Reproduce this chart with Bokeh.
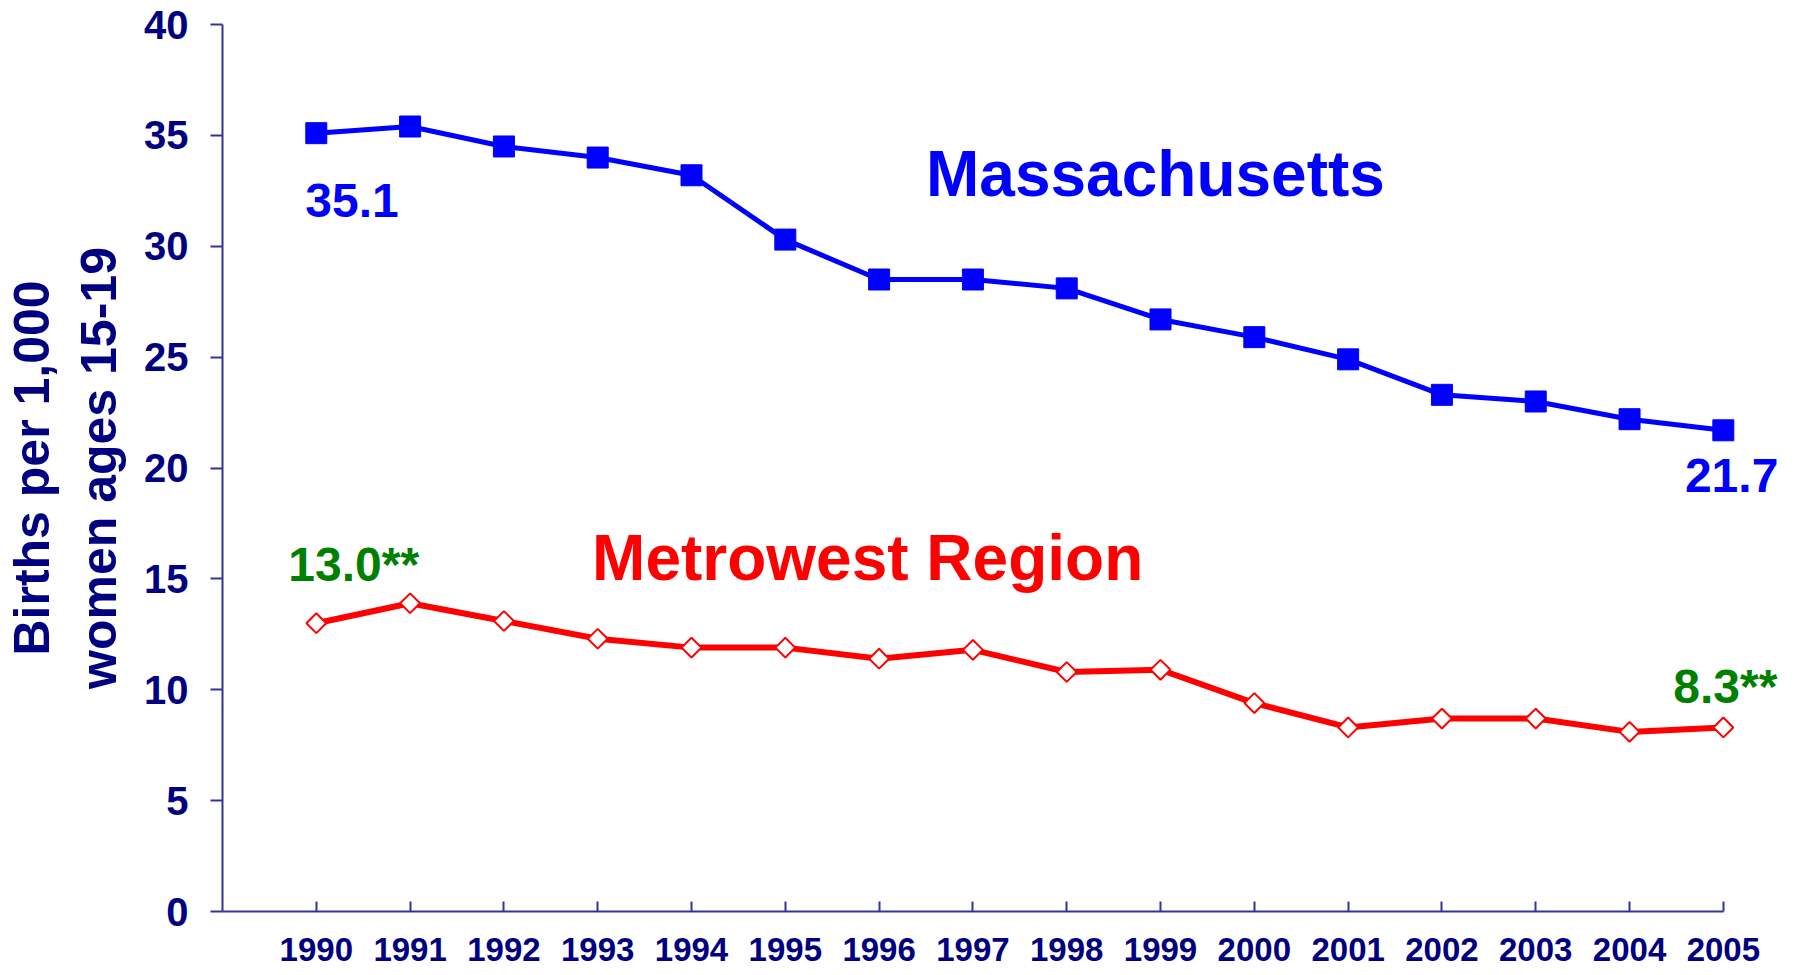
import numpy as np
from bokeh.plotting import figure
from bokeh.models import Label, FixedTicker, Range1d
from bokeh.embed import file_html
from bokeh.resources import INLINE

# ---- data ----
years = [1990, 1991, 1992, 1993, 1994, 1995, 1996, 1997,
         1998, 1999, 2000, 2001, 2002, 2003, 2004, 2005]
massachusetts = [35.1, 35.4, 34.5, 34.0, 33.2, 30.3, 28.5, 28.5,
                 28.1, 26.7, 25.9, 24.9, 23.3, 23.0, 22.2, 21.7]
metrowest = [13.0, 13.9, 13.1, 12.3, 11.9, 11.9, 11.4, 11.8,
             10.8, 10.9, 9.4, 8.3, 8.7, 8.7, 8.1, 8.3]
y_ticks = [0, 5, 10, 15, 20, 25, 30, 35, 40]
series_names = ["Massachusetts", "Metrowest Region"]
y_title = "Births per 1,000\nwomen ages 15-19"

FONT = "Liberation Sans"
NAVY = "#000080"
AXIS = "#333399"
BLUE = "#0000FF"
RED = "#FF0000"
GREEN = "#008000"

p = figure(width=1781, height=975,
           x_range=Range1d(1989, 2005.62), y_range=Range1d(0, 40),
           output_backend="svg", toolbar_location=None,
           min_border_left=213, min_border_top=24,
           min_border_right=0, min_border_bottom=64)
p.outline_line_color = None
p.xgrid.visible = False
p.ygrid.visible = False
p.background_fill_color = "white"
p.border_fill_color = "white"

# y axis
ya = p.yaxis[0]
ya.ticker = FixedTicker(ticks=y_ticks)
ya.axis_line_color = AXIS
ya.axis_line_width = 2
ya.major_tick_line_color = AXIS
ya.major_tick_line_width = 2
ya.major_tick_out = 12
ya.major_tick_in = 0
ya.minor_tick_line_color = None
ya.major_label_text_font = FONT
ya.major_label_text_font_style = "bold"
ya.major_label_text_font_size = "40px"
ya.major_label_text_color = NAVY
ya.major_label_standoff = 22
ya.axis_label = y_title
ya.axis_label_text_font = FONT
ya.axis_label_text_font_style = "bold"
ya.axis_label_text_font_size = "50px"
ya.axis_label_text_color = NAVY
ya.axis_label_standoff = 14

# x axis
xa = p.xaxis[0]
xa.ticker = FixedTicker(ticks=years)
xa.bounds = (1989, 2005)
xa.axis_line_color = AXIS
xa.axis_line_width = 2
xa.major_tick_line_color = AXIS
xa.major_tick_line_width = 2
xa.major_tick_in = 10
xa.major_tick_out = 0
xa.minor_tick_line_color = None
xa.major_label_text_font = FONT
xa.major_label_text_font_style = "bold"
xa.major_label_text_font_size = "33px"
xa.major_label_text_color = NAVY
xa.major_label_standoff = 26

# series
p.line(years, massachusetts, line_color=BLUE, line_width=5)
p.scatter(years, massachusetts, marker="square", size=21,
          fill_color=BLUE, line_color=BLUE, line_width=1)

p.line(years, metrowest, line_color=RED, line_width=6)
p.scatter(years, metrowest, marker="square", angle=np.pi / 4, size=14,
          fill_color="white", line_color=RED, line_width=2)

def lab(x, y, text, color, size, align, xo, yo):
    p.add_layout(Label(x=x, y=y, text=text, text_color=color,
                       text_font=FONT, text_font_style="bold",
                       text_font_size=size, text_align=align,
                       text_baseline="alphabetic",
                       x_offset=xo, y_offset=yo))

# value labels
lab(years[0], massachusetts[0], f"{massachusetts[0]:.1f}", BLUE, "48px", "left", -11, -67)
lab(years[-1], massachusetts[-1], f"{massachusetts[-1]:.1f}", BLUE, "48px", "right", 55, -45)
lab(years[0], metrowest[0], f"{metrowest[0]:.1f}**", GREEN, "48px", "left", -28, 59)
lab(years[-1], metrowest[-1], f"{metrowest[-1]:.1f}**", GREEN, "48px", "right", 54, 41)

# series names
lab(1996.50, 33.24, series_names[0], BLUE, "64px", "left", 0, 0)
lab(1992.94, 15.92, series_names[1], RED, "64px", "left", 0, 0)

open("out.html", "w").write(file_html(p, INLINE))
